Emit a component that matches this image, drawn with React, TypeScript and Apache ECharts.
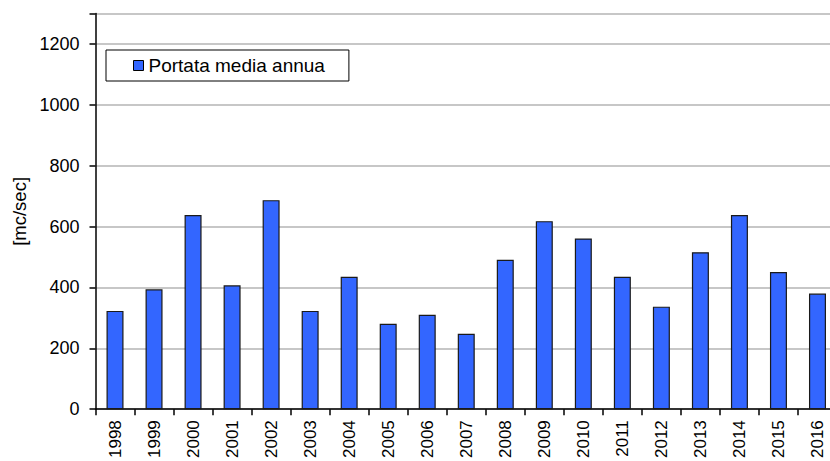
import React, { useEffect, useRef } from "react";
import * as echarts from "echarts";

const years = ["1998","1999","2000","2001","2002","2003","2004","2005","2006","2007","2008","2009","2010","2011","2012","2013","2014","2015","2016"];
const portata = [323, 394, 638, 407, 687, 323, 435, 281, 310, 248, 491, 618, 561, 435, 337, 516, 638, 451, 380];
const yTicks = { min: 0, max: 1300, interval: 200 };
const seriesName = "Portata media annua";
const yName = "[mc/sec]";

export default function App() {
  const ref = useRef<HTMLDivElement>(null);
  useEffect(() => {
    document.body.style.margin = "0";
    const chart = echarts.init(ref.current!, null, { renderer: "svg" });
    const font = "'Liberation Sans', Arial, sans-serif";
    chart.setOption({
      animation: false,
      backgroundColor: "#ffffff",
      grid: { left: 95.5, top: 13.6, right: -7, bottom: 51.8, containLabel: false, outerBoundsMode: "none" },
      legend: {
        show: true,
        left: 106,
        top: 50,
        orient: "horizontal",
        padding: [6, 24, 6, 27],
        borderColor: "#000",
        borderWidth: 1,
        itemWidth: 10,
        itemHeight: 10,
        icon: "rect",
        itemStyle: { borderColor: "#000", borderWidth: 1 },
        textStyle: { fontFamily: font, fontSize: 19, color: "#000", lineHeight: 19 },
        data: [seriesName],
      },
      xAxis: {
        type: "category",
        data: years,
        boundaryGap: true,
        axisLine: { show: true, lineStyle: { color: "#000", width: 1.5 } },
        axisTick: { show: true, alignWithLabel: false, length: 6, lineStyle: { color: "#000", width: 1.5 } },
        axisLabel: { rotate: 90, margin: 11, fontFamily: font, fontSize: 17, color: "#000", interval: 0 },
        splitLine: { show: false },
      },
      yAxis: {
        type: "value",
        min: yTicks.min,
        max: yTicks.max,
        interval: yTicks.interval,
        name: yName,
        nameLocation: "middle",
        nameGap: 64,
        nameRotate: 90,
        nameTextStyle: { fontFamily: font, fontSize: 18.5, color: "#000" },
        axisLine: { show: true, lineStyle: { color: "#000", width: 1.5 } },
        axisTick: { show: true, length: 6, lineStyle: { color: "#000", width: 1.5 } },
        axisLabel: {
          margin: 16,
          fontFamily: font,
          fontSize: 18,
          color: "#000",
          formatter: (v: number) => (v % 200 === 0 ? String(v) : ""),
        },
        splitLine: { show: true, lineStyle: { color: "#b4b4b4", width: 1.5 } },
      },
      series: [
        {
          name: seriesName,
          type: "bar",
          data: portata,
          barWidth: 17,
          itemStyle: { color: "#3366ff", borderColor: "#1a1a1a", borderWidth: 1.2 },
        },
      ],
    });
    return () => chart.dispose();
  }, []);
  return <div ref={ref} style={{ width: 830, height: 461 }} />;
}
